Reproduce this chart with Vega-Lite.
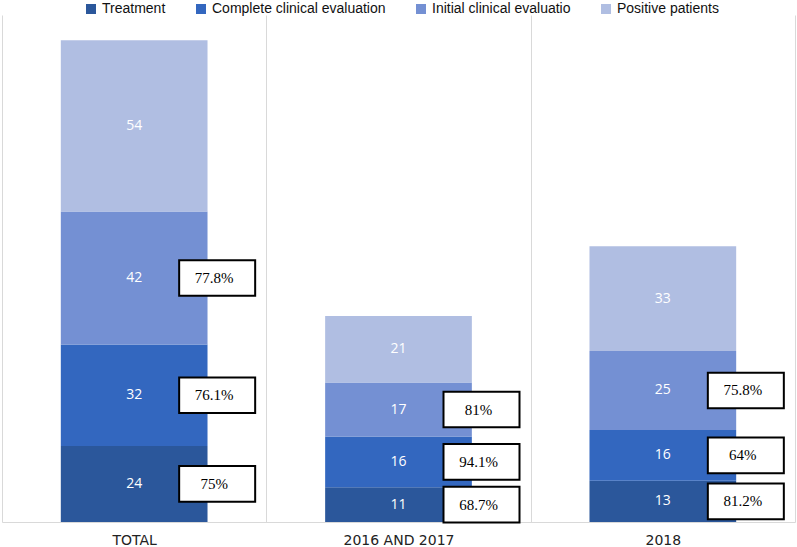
{
  "$schema": "https://vega.github.io/schema/vega-lite/v6.json",
  "autosize": "none",
  "width": 793,
  "height": 507,
  "padding": {"left": 2, "top": 15, "right": 2, "bottom": 25},
  "background": "white",
  "config": {
    "view": {"stroke": null},
    "font": "Liberation Sans"
  },
  "data": {
    "values": [
      {"cat": "TOTAL", "stage": "Treatment", "k": 1, "value": 24, "pct": "75%"},
      {"cat": "TOTAL", "stage": "Complete clinical evaluation", "k": 2, "value": 32, "pct": "76.1%"},
      {"cat": "TOTAL", "stage": "Initial clinical evaluatio", "k": 3, "value": 42, "pct": "77.8%"},
      {"cat": "TOTAL", "stage": "Positive patients", "k": 4, "value": 54, "pct": null},
      {"cat": "2016 AND 2017", "stage": "Treatment", "k": 1, "value": 11, "pct": "68.7%"},
      {"cat": "2016 AND 2017", "stage": "Complete clinical evaluation", "k": 2, "value": 16, "pct": "94.1%"},
      {"cat": "2016 AND 2017", "stage": "Initial clinical evaluatio", "k": 3, "value": 17, "pct": "81%"},
      {"cat": "2016 AND 2017", "stage": "Positive patients", "k": 4, "value": 21, "pct": null},
      {"cat": "2018", "stage": "Treatment", "k": 1, "value": 13, "pct": "81.2%"},
      {"cat": "2018", "stage": "Complete clinical evaluation", "k": 2, "value": 16, "pct": "64%"},
      {"cat": "2018", "stage": "Initial clinical evaluatio", "k": 3, "value": 25, "pct": "75.8%"},
      {"cat": "2018", "stage": "Positive patients", "k": 4, "value": 33, "pct": null}
    ]
  },
  "transform": [
    {"stack": "value", "groupby": ["cat"], "sort": [{"field": "k", "order": "ascending"}], "as": ["y0", "y1"]},
    {"calculate": "(datum.y0 + datum.y1) / 2", "as": "mid"}
  ],
  "encoding": {
    "x": {
      "field": "cat",
      "type": "nominal",
      "sort": ["TOTAL", "2016 AND 2017", "2018"],
      "scale": {"paddingInner": 0, "paddingOuter": 0},
      "axis": {
        "title": null,
        "labelAngle": 0,
        "grid": true,
        "gridColor": "#d9d9d9",
        "gridWidth": 1,
        "tickBand": "extent",
        "ticks": false,
        "domainColor": "#d9d9d9",
        "labelFont": "DejaVu Sans",
        "labelFontSize": 14,
        "labelColor": "#222222",
        "labelPadding": 11
      }
    }
  },
  "layer": [
    {
      "mark": {"type": "bar", "width": {"band": 0.555}},
      "encoding": {
        "y": {"field": "y0", "type": "quantitative", "scale": {"domain": [0, 160], "nice": false}, "axis": null},
        "y2": {"field": "y1"},
        "color": {
          "field": "stage",
          "type": "nominal",
          "sort": ["Treatment", "Complete clinical evaluation", "Initial clinical evaluatio", "Positive patients"],
          "scale": {
            "domain": ["Treatment", "Complete clinical evaluation", "Initial clinical evaluatio", "Positive patients"],
            "range": ["#2b579b", "#3367bf", "#7490d3", "#b0bee2"]
          },
          "legend": {
            "title": null,
            "orient": "none",
            "direction": "horizontal",
            "legendX": 82,
            "legendY": -13,
            "symbolType": "square",
            "symbolSize": 100,
            "symbolStrokeWidth": 0,
            "labelFontSize": 14,
            "labelFont": "Liberation Sans",
            "labelColor": "#111111",
            "labelLimit": 400,
            "columnPadding": 28,
            "labelOffset": 4
          }
        }
      }
    },
    {
      "mark": {"type": "text", "color": "white", "fontSize": 14, "font": "Open Sans"},
      "encoding": {
        "y": {"field": "mid", "type": "quantitative"},
        "text": {"field": "value", "type": "quantitative"}
      }
    },
    {
      "transform": [{"filter": "datum.pct != null"}],
      "mark": {
        "type": "point",
        "shape": "M-1,-0.47H1V0.47H-1Z",
        "size": 5776,
        "filled": true,
        "fill": "white",
        "stroke": "black",
        "strokeWidth": 2,
        "opacity": 1,
        "xOffset": 83
      },
      "encoding": {
        "y": {"field": "mid", "type": "quantitative"}
      }
    },
    {
      "transform": [{"filter": "datum.pct != null"}],
      "mark": {"type": "text", "color": "black", "fontSize": 15, "font": "Liberation Serif", "xOffset": 80},
      "encoding": {
        "y": {"field": "mid", "type": "quantitative"},
        "text": {"field": "pct", "type": "nominal"}
      }
    }
  ]
}
